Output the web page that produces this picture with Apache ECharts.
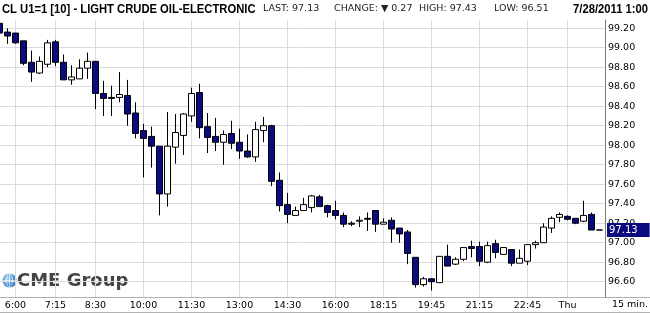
<!DOCTYPE html>
<html><head><meta charset="utf-8">
<script src="https://cdn.jsdelivr.net/npm/echarts@6/dist/echarts.min.js"></script>
<style>html,body{margin:0;padding:0;background:#fff}#c{width:650px;height:314px}</style>
</head><body><div id="c"></div><script>
const times = ['5:30','5:45','6:00','6:15','6:30','6:45','7:00','7:15','7:30','7:45','8:00','8:15','8:30','8:45','9:00','9:15','9:30','9:45','10:00','10:15','10:30','10:45','11:00','11:15','11:30','11:45','12:00','12:15','12:30','12:45','13:00','13:15','13:30','13:45','14:00','14:15','14:30','14:45','15:00','15:15','15:30','15:45','16:00','16:15','16:30','16:45','17:00','18:00','18:15','18:30','18:45','19:00','19:15','19:30','19:45','20:00','20:15','20:30','20:45','21:00','21:15','21:30','21:45','22:00','22:15','22:30','22:45','23:00','23:15','23:30','23:45','0:00','0:15','0:30','0:45','1:00'];
const open = [99.25,99.16,99.15,99.07,98.85,98.74,98.83,99.06,98.85,98.67,98.68,98.79,
  98.86,98.53,98.49,98.49,98.51,98.33,98.15,98.09,97.99,97.50,
  97.98,98.10,98.30,98.54,98.19,98.09,98.03,98.12,98.03,97.94,
  97.88,98.15,98.20,97.64,97.39,97.28,97.33,97.36,97.47,97.38,
  97.33,97.28,97.20,97.22,97.25,97.33,97.19,97.23,97.15,97.11,
  96.85,96.57,96.63,96.59,96.86,96.78,96.83,96.96,96.96,96.80,
  96.99,96.88,96.93,96.79,96.81,96.98,97.00,97.15,97.26,97.27,
  97.25,97.22,97.29,97.13];
const close = [99.15,99.12,99.05,98.84,98.75,98.86,99.05,98.85,98.67,98.70,98.79,98.86,
  98.53,98.48,98.48,98.52,98.32,98.12,98.07,97.99,97.50,97.99,
  98.13,98.32,98.53,98.18,98.08,98.03,98.11,98.02,97.94,97.88,
  98.16,98.20,97.63,97.38,97.29,97.33,97.39,97.48,97.37,97.31,
  97.28,97.19,97.19,97.23,97.24,97.19,97.21,97.14,97.09,96.89,
  96.57,96.63,96.60,96.86,96.76,96.83,96.95,96.94,96.81,96.97,
  96.90,96.95,96.79,96.84,96.98,97.00,97.16,97.25,97.29,97.24,
  97.20,97.28,97.13,97.13];
const low = [99.14,99.04,99.04,98.82,98.65,98.73,98.80,98.81,98.67,98.62,98.68,98.68,
  98.37,98.30,98.30,98.44,98.20,98.07,97.67,97.77,97.28,97.37,
  97.81,97.90,98.24,98.07,97.92,97.94,97.80,97.96,97.86,97.87,
  97.83,98.03,97.58,97.32,97.20,97.28,97.33,97.31,97.37,97.26,
  97.24,97.16,97.17,97.16,97.12,97.11,97.19,97.00,97.00,96.78,
  96.54,96.55,96.51,96.59,96.76,96.77,96.81,96.85,96.76,96.79,
  96.84,96.88,96.76,96.79,96.77,96.94,97.00,97.10,97.21,97.23,
  97.19,97.21,97.13,97.13];
const high = [99.27,99.20,99.15,99.07,98.97,98.91,99.08,99.08,98.93,98.82,98.88,98.95,
  98.86,98.66,98.61,98.75,98.67,98.44,98.22,98.19,97.99,98.34,
  98.32,98.33,98.59,98.63,98.33,98.28,98.15,98.25,98.17,98.11,
  98.24,98.29,98.21,97.72,97.51,97.37,97.46,97.49,97.49,97.39,
  97.43,97.31,97.22,97.27,97.31,97.33,97.25,97.26,97.15,97.13,
  96.85,96.65,96.63,96.86,96.98,96.85,96.95,97.02,97.01,97.01,
  97.03,96.95,96.93,96.93,96.98,97.02,97.20,97.27,97.31,97.28,
  97.25,97.43,97.31,97.13];
const xTickTimes = ['6:00','7:15','8:30','10:00','11:30','13:00','14:30','16:00','18:15','19:45','21:15','22:45','0:00'];
const xTickLabels = ['6:00','7:15','8:30','10:00','11:30','13:00','14:30','16:00','18:15','19:45','21:15','22:45','Thu'];
const yTicks = [96.6,96.8,97.0,97.2,97.4,97.6,97.8,98.0,98.2,98.4,98.6,98.8,99.0,99.2];
const prevSettle = 97.40;
const sessionStart = '18:00';
const chartTitle = 'CL U1=1 [10] - LIGHT CRUDE OIL-ELECTRONIC';
const stamp = '7/28/2011 1:00';
const barPeriod = '15 min.';

const n = times.length;
const candles = times.map((t, i) => [i, open[i], close[i], low[i], high[i]]);
const tickIdx = xTickTimes.map(t => times.indexOf(t));
const s0 = times.indexOf(sessionStart);
const last = close[n - 1];
const sessHigh = Math.max(...high.slice(s0));
const sessLow = Math.min(...low.slice(s0));
const change = last - prevSettle;

const NAVY = '#0b0b80';
const GRID = '#dcdcdc';
const smallFont = '9.5px "DejaVu Sans", sans-serif';
const titleFont = 'bold 13.7px "Liberation Sans", Arial, sans-serif';

const chart = echarts.init(document.getElementById('c'), null, {renderer: 'canvas'});
chart.setOption({
  animation: false,
  backgroundColor: '#fff',
  grid: {left: 0, right: 45, top: 20, bottom: 17},
  xAxis: {
    type: 'value', min: 0.0625, max: 75.6875,
    axisLine: {show: false},
    axisTick: {show: false, customValues: tickIdx},
    axisLabel: {
      customValues: tickIdx, margin: 4, color: '#000',
      fontSize: 9.5, fontFamily: 'DejaVu Sans',
      formatter: v => { const j = tickIdx.indexOf(Math.round(v)); return j >= 0 ? xTickLabels[j] : ''; }
    },
    splitLine: {show: true, lineStyle: {color: GRID, width: 1}}
  },
  yAxis: {
    type: 'value', position: 'right', min: 96.443, max: 99.284, scale: true,
    axisLine: {show: true, lineStyle: {color: '#7a7a7a', width: 1}},
    axisTick: {show: false, customValues: yTicks},
    axisLabel: {
      customValues: yTicks, margin: 3, color: '#000',
      fontSize: 9.5, fontFamily: 'DejaVu Sans',
      formatter: v => v.toFixed(2)
    },
    splitLine: {show: true, lineStyle: {color: GRID, width: 1}}
  },
  series: [{
    type: 'candlestick',
    data: candles,
    barWidth: 6,
    clip: true,
    itemStyle: {color: '#ffffff', color0: NAVY, borderColor: '#000', borderColor0: '#000', borderWidth: 1},
    markLine: {
      silent: true, symbol: ['none', 'none'],
      lineStyle: {color: 'rgba(0,0,0,0)', type: 'solid', width: 1},
      data: [{yAxis: last}],
      label: {
        show: true, position: 'end', distance: 2, opacity: 1,
        formatter: () => last.toFixed(2),
        backgroundColor: NAVY, color: '#fff', fontSize: 10, lineHeight: 10,
        fontFamily: 'DejaVu Sans', padding: [2, 12, 2, 2]
      }
    }
  }],
  graphic: [
    {type: 'text', x: 2, y: 9, scaleX: 0.82, style: {text: chartTitle, font: titleFont, fill: '#000', verticalAlign: 'middle'}},
    {type: 'text', x: 263, y: 9, style: {text: 'LAST: ' + last.toFixed(2), font: smallFont, fill: '#222', verticalAlign: 'middle'}},
    {type: 'text', x: 334, y: 9, style: {text: 'CHANGE: ' + (change < 0 ? '▼ ' : '▲ ') + Math.abs(change).toFixed(2), font: smallFont, fill: '#222', verticalAlign: 'middle'}},
    {type: 'text', x: 419, y: 9, style: {text: 'HIGH: ' + sessHigh.toFixed(2), font: smallFont, fill: '#222', verticalAlign: 'middle'}},
    {type: 'text', x: 494, y: 9, style: {text: 'LOW: ' + sessLow.toFixed(2), font: smallFont, fill: '#222', verticalAlign: 'middle'}},
    {type: 'text', x: 648, y: 9, scaleX: 0.82, style: {text: stamp, font: titleFont, fill: '#000', align: 'right', verticalAlign: 'middle'}},
    {type: 'line', shape: {x1: 0, y1: 297.5, x2: 650, y2: 297.5}, style: {stroke: '#b0b0b0', lineWidth: 1}},
    {type: 'line', shape: {x1: 0, y1: 312.5, x2: 650, y2: 312.5}, style: {stroke: '#b0b0b0', lineWidth: 1}},
    {type: 'text', x: 612, y: 305, style: {text: barPeriod, font: smallFont, fill: '#000', verticalAlign: 'middle'}},
    {type: 'circle', shape: {cx: 9.5, cy: 280.5, r: 7}, style: {fill: new echarts.graphic.RadialGradient(0.35, 0.35, 0.8, [{offset: 0, color: '#a8d8f8'}, {offset: 1, color: '#0b5fb0'}])}},
    {type: 'ellipse', shape: {cx: 9.5, cy: 280.5, rx: 3, ry: 7}, style: {fill: 'none', stroke: 'rgba(255,255,255,0.8)', lineWidth: 0.8}},
    {type: 'line', shape: {x1: 2.5, y1: 280.5, x2: 16.5, y2: 280.5}, style: {stroke: 'rgba(255,255,255,0.8)', lineWidth: 0.8}},
    {type: 'line', shape: {x1: 9.5, y1: 273.5, x2: 9.5, y2: 287.5}, style: {stroke: 'rgba(255,255,255,0.8)', lineWidth: 0.8}},
    {type: 'text', x: 17, y: 281, style: {text: 'CME Group', font: 'bold 18px "DejaVu Sans", sans-serif', fill: '#444', verticalAlign: 'middle'}}
  ]
});
</script></body></html>
